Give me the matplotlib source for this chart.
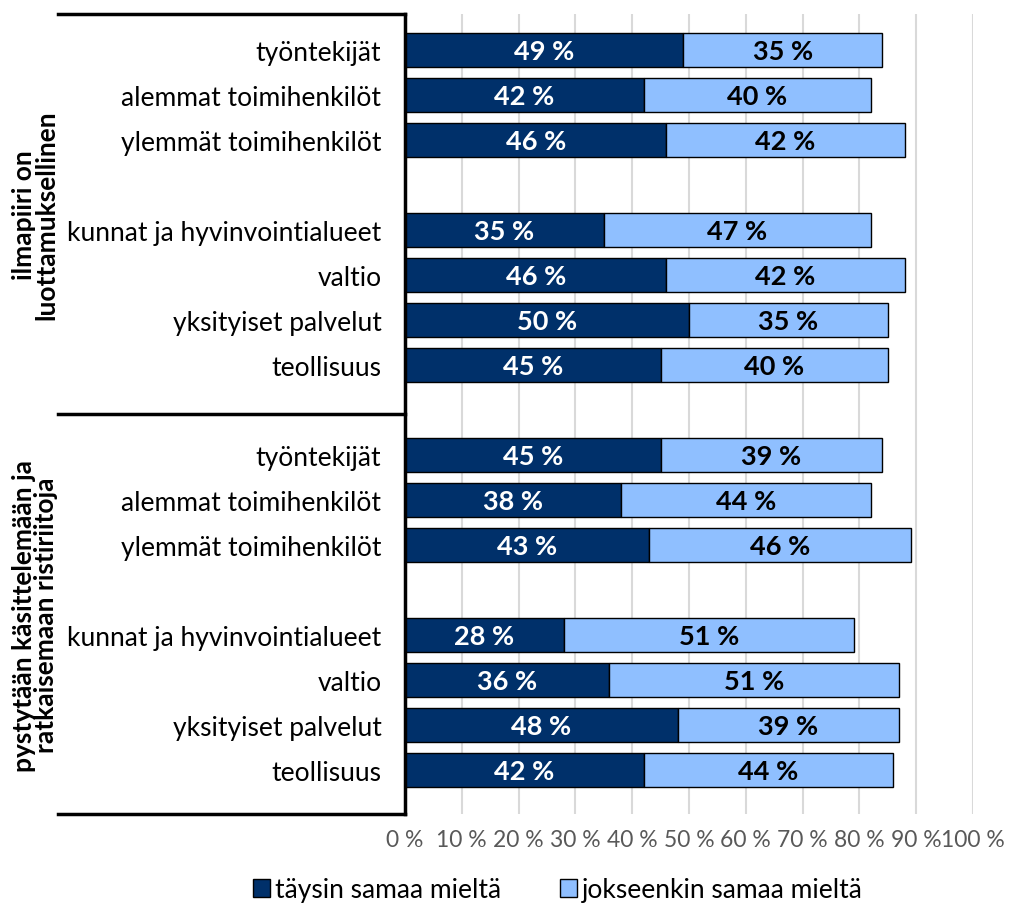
import matplotlib
matplotlib.use("Agg")
import matplotlib.pyplot as plt
from matplotlib.patches import Patch

# Kategoriat ja arvot (ylhäältä alas)
categories = ["työntekijät", "alemmat toimihenkilöt", "ylemmät toimihenkilöt",
              "kunnat ja hyvinvointialueet", "valtio", "yksityiset palvelut", "teollisuus"]
groups = ["ilmapiiri on\nluottamuksellinen",
          "pystytään käsittelemään ja\nratkaisemaan ristiriitoja"]
taysin_1 = [49, 42, 46, 35, 46, 50, 45]
jokseenkin_1 = [35, 40, 42, 47, 42, 35, 40]
taysin_2 = [45, 38, 43, 28, 36, 48, 42]
jokseenkin_2 = [39, 44, 46, 51, 51, 39, 44]
series_names = ["täysin samaa mieltä", "jokseenkin samaa mieltä"]

DARK = "#00306A"
LIGHT = "#8FBFFF"

plt.rcParams["font.family"] = ["Lato", "DejaVu Sans"]

# paikat: ryhmien väliin tyhjät rivit
rows = [0, 1, 2, 4, 5, 6, 7, 9, 10, 11, 13, 14, 15, 16]
labels = categories * 2
dark_vals = taysin_1 + taysin_2
light_vals = jokseenkin_1 + jokseenkin_2

fig = plt.figure(figsize=(10.32, 9.12), dpi=100)
ax = fig.add_axes([405 / 1032, 1 - 815 / 912, 568 / 1032, 800 / 912])

h = 0.76
ax.barh(rows, dark_vals, height=h, color=DARK, edgecolor="black", linewidth=1, zorder=3)
ax.barh(rows, light_vals, left=dark_vals, height=h, color=LIGHT, edgecolor="black",
        linewidth=1, zorder=3)

for r, d, l in zip(rows, dark_vals, light_vals):
    ax.text(d / 2, r + 0.03, f"{d} %", color="white", ha="center", va="center",
            fontsize=19.5, fontweight="bold", zorder=4)
    ax.text(d + l / 2, r + 0.03, f"{l} %", color="black", ha="center", va="center",
            fontsize=19.5, fontweight="bold", zorder=4)

ax.set_xlim(0, 100)
ax.set_ylim(16.98, -0.8)
ax.set_xticks(range(0, 101, 10))
ax.set_xticklabels([f"{v} %" for v in range(0, 101, 10)], fontsize=16.5, color="#595959")
ax.set_yticks(rows)
ax.set_yticklabels(labels, fontsize=19)
ax.tick_params(axis="both", length=0)
ax.tick_params(axis="y", pad=17)
ax.tick_params(axis="x", pad=11)
ax.grid(axis="x", color="#D9D9D9", linewidth=1.5, zorder=0)
for s in ["top", "right", "bottom"]:
    ax.spines[s].set_visible(False)
ax.spines["left"].set_linewidth(2.5)
ax.spines["left"].set_zorder(5)

# ryhmien rajaviivat ja otsikot
x0 = (58 - 405) / 568
for y in [-0.8, 8.09, 16.98]:
    ax.plot([x0, 0], [y, y], color="black", lw=2.5, clip_on=False,
            transform=ax.get_yaxis_transform())
ax.text((35 - 405) / 568, 3.65, groups[0], rotation=90, ha="center", va="center",
        fontsize=19, fontweight="bold", linespacing=0.9,
        transform=ax.get_yaxis_transform())
ax.text((35 - 405) / 568, 12.55, groups[1], rotation=90, ha="center", va="center",
        fontsize=19, fontweight="bold", linespacing=0.9,
        transform=ax.get_yaxis_transform())

handles = [Patch(facecolor=DARK, edgecolor="black"), Patch(facecolor=LIGHT, edgecolor="black")]
fig.legend(handles, series_names, loc="center", bbox_to_anchor=(558 / 1032, 1 - 891 / 912),
           ncol=2, frameon=False, fontsize=19, handlelength=0.65, handleheight=0.65,
           handletextpad=0.2, columnspacing=2.2)

fig.savefig("out.png", dpi=100)
